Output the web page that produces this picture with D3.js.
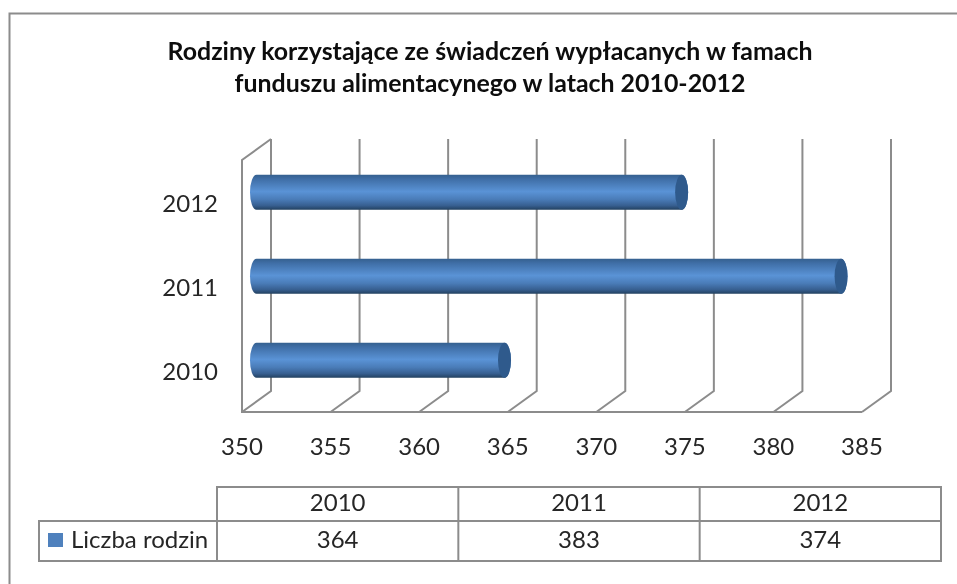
<!DOCTYPE html>
<html><head><meta charset="utf-8">
<script src="https://cdn.jsdelivr.net/npm/d3@7/dist/d3.min.js"></script>
<style>html,body{margin:0;padding:0;background:#fff;overflow:hidden}svg{display:block;filter:blur(.55px)}text{font-family:Lato,"Open Sans",sans-serif;fill:#262626}</style>
</head><body><div id="c"></div>
<script>
const titleLines = ["Rodziny korzystające ze świadczeń wypłacanych w famach","funduszu alimentacynego w latach 2010-2012"];
const categories = ["2010","2011","2012"];
const seriesName = "Liczba rodzin";
const values = [364,383,374];
const ticks = [350,355,360,365,370,375,380,385];

const W=957,H=584;
const svg=d3.select("#c").append("svg").attr("width",W).attr("height",H);
const defs=svg.append("defs");
const grad=defs.append("linearGradient").attr("id","cyl").attr("x1",0).attr("y1",0).attr("x2",0).attr("y2",1);
[[0,"#35608f"],[.12,"#3f6ea6"],[.48,"#5a93d6"],[.7,"#4a7cb8"],[.88,"#375f90"],[1,"#22405f"]].forEach(s=>grad.append("stop").attr("offset",s[0]).attr("stop-color",s[1]));

const line="#8c8c8c";
svg.append("rect").attr("x",9.5).attr("y",13.5).attr("width",W+20).attr("height",H+20).attr("fill","#fff").attr("stroke",line).attr("stroke-width",2);

svg.append("g").selectAll("text").data(titleLines).join("text")
  .attr("x",490).attr("y",(d,i)=>60+i*32).attr("text-anchor","middle").attr("font-size",24.9).attr("font-weight",700).style("fill","#0d0d0d").text(d=>d);

const dx=29,dy=21;
const x=d3.scaleLinear().domain([350,385]).range([242,862]);
const y=d3.scaleBand().domain(categories.slice().reverse()).range([160,412]);
const plotTop=y.range()[0],plotBot=y.range()[1];
const floor=svg.append("g").attr("fill","none").attr("stroke",line).attr("stroke-width",2);
ticks.forEach(t=>{
  floor.append("path").attr("d",d3.line()([[x(t),plotBot],[x(t)+dx,plotBot-dy],[x(t)+dx,plotTop-dy]]));
});
floor.append("path").attr("d",d3.line()([[x(350)+dx,plotTop-dy],[x(350),plotTop],[x(350),plotBot],[x(385),plotBot]]));

const rx=6.5,bh=35;
const bars=svg.append("g");
categories.forEach((c,i)=>{
  const cy=y(c)+y.bandwidth()/2-dy/2+.8, x0=x(350)+dx/2, x1=x(values[i])+dx/2, t=cy-bh/2, b=cy+bh/2;
  bars.append("path").attr("fill","url(#cyl)")
    .attr("d",`M${x0},${t}L${x1},${t}A${rx},${bh/2} 0 0 1 ${x1},${b}L${x0},${b}A${rx},${bh/2} 0 0 1 ${x0},${t}Z`);
  bars.append("ellipse").attr("cx",x1).attr("cy",cy).attr("rx",rx).attr("ry",bh/2).attr("fill","#2f5a8c");
});

const fs=24;
svg.append("g").selectAll("text").data(ticks).join("text").attr("x",d=>x(d)).attr("y",455).attr("text-anchor","middle").attr("font-size",fs).text(d=>d);
svg.append("g").selectAll("text").data(categories).join("text").attr("x",218).attr("y",d=>y(d)+y.bandwidth()/2+10).attr("text-anchor","end").attr("font-size",fs).text(d=>d);

const tx=d3.scaleBand().domain(categories).range([217,941]);
const tb=svg.append("g").attr("fill","none").attr("stroke",line).attr("stroke-width",2);
const r0=487,r1=521,r2=561,tblLeft=39;
tb.append("path").attr("d",d3.line()([[tx.range()[0],r1],[tx.range()[0],r0],[tx.range()[1],r0],[tx.range()[1],r2],[tblLeft,r2],[tblLeft,r1],[tx.range()[1],r1]]));
tb.selectAll("line").data(categories).join("line").attr("x1",d=>tx(d)).attr("x2",d=>tx(d)).attr("y1",r0).attr("y2",r2);
svg.append("g").selectAll("text").data(categories).join("text").attr("x",d=>tx(d)+tx.bandwidth()/2).attr("y",511).attr("text-anchor","middle").attr("font-size",fs).text(d=>d);
svg.append("g").selectAll("text").data(values).join("text").attr("x",(d,i)=>tx(categories[i])+tx.bandwidth()/2).attr("y",548).attr("text-anchor","middle").attr("font-size",fs).text(d=>d);
svg.append("rect").attr("x",48).attr("y",533).attr("width",15).attr("height",14).attr("fill","#4f81bd");
svg.append("text").attr("x",71).attr("y",548).attr("font-size",fs).text(seriesName);
</script></body></html>
